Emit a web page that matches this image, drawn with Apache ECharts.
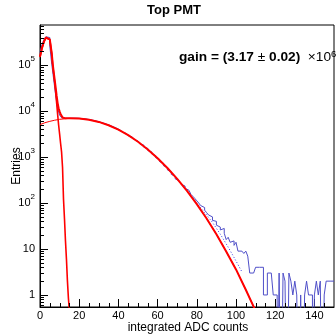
<!DOCTYPE html>
<html><head><meta charset="utf-8">
<script src="https://cdn.jsdelivr.net/npm/echarts@6/dist/echarts.min.js"></script>
<style>html,body{margin:0;padding:0;background:#fff}#c{width:336px;height:334px}</style>
</head><body><div id="c"></div>
<script>
// ---- data ----
// histogram: bins of width 1, starting at 0 (bin i covers [i, i+1))
const histCounts = [
  190000, 280000, 360000, 415000, 400000, 260000, 105000, 48000, 22000, 11500,
  8200, 7200, 7000, 7050, 6980, 6940, 7010, 6980, 7020, 6940,
  6930, 6830, 6790, 6660, 6590, 6440, 6350, 6170, 6060, 5870,
  5740, 5530, 5390, 5170, 5030, 4800, 4650, 4420, 4270, 4030,
  3880, 3650, 3500, 3270, 3130, 2910, 2770, 2560, 2430, 2230,
  2110, 1920, 1820, 1640, 1550, 1390, 1300, 1170, 1080, 970,
  895, 800, 735, 650, 595, 525, 478, 420, 380, 335,
  305, 280, 255, 235, 210, 190, 172, 155, 140, 126,
  112, 100, 88, 80, 70, 62, 55, 50, 42, 40,
  33, 30, 26, 28, 22, 16, 18, 14, 15, 12,
  14, 9, 9, 9, 8, 9, 7, 3, 3, 3,
  4, 4, 4, 4, 1, 1, 3, 3, 3, 1,
  1, 0, 3, 0, 3, 2, 0, 3, 2, 1,
  2, 1, 0, 1, 0, 1, 2, 1, 1, 0,
  1, 2, 1, 2, 0, 1, 2, 2, 2, 2
];
const binWidth = 1;

// total fit (red, thick)
const totalFit = [
  [0, 155000], [1, 236000], [2, 326000], [3, 401000], [4, 426000], [5, 366000],
  [6, 181000], [6.5, 106000], [7, 71000], [7.5, 48000], [8, 32500], [8.5, 21500],
  [9, 15000], [9.5, 11600], [10, 9900], [10.5, 8700], [11, 8000], [11.5, 7300],
  [12, 6950], [13, 6970], [15, 7000], [20, 6930], [25, 6530], [30, 5830],
  [35, 4930], [40, 3950], [45, 3000], [50, 2155], [55, 1470], [60, 947],
  [65, 579], [70, 335], [75, 184], [80, 95], [85, 46], [90, 21], [95, 8.8],
  [100, 3.6], [105, 1.3], [110, 0.45]
];
// pedestal component (red)
const pedestalFit = [
  [0, 150000], [1, 230000], [2, 320000], [3, 395000], [4, 420000], [5, 360000],
  [6, 175000], [6.5, 100000], [7, 65000], [7.5, 42000], [8, 26000], [8.5, 15000],
  [9, 8500], [9.5, 5000], [10, 3200], [10.5, 2000], [11, 1300], [11.5, 600],
  [12, 120], [12.5, 45], [13, 15], [13.5, 6], [14, 2], [14.5, 0.85], [15, 0.45], [15.5, 0.3]
];
// single-photoelectron component (red, thin)
const speFit = [
  [0, 5100], [2.5, 5600], [5, 6000], [7.5, 6350], [10, 6640], [15, 6970],
  [20, 6930], [25, 6530], [30, 5830], [35, 4930], [40, 3950], [45, 3000],
  [50, 2155], [55, 1470], [60, 947], [65, 579], [70, 335], [75, 184],
  [80, 95], [85, 46], [90, 21], [95, 8.8], [100, 3.6], [105, 1.3], [110, 0.45]
];
// alternative curve (blue dotted)
const altFit = [
  [78, 130], [80, 100], [84, 62], [88, 38], [92, 21], [96, 11], [100, 5.5], [103, 3.2]
];

const xTickValues = [0, 20, 40, 60, 80, 100, 120, 140];
const xMinorStep = 5;
const yDecades = [-1, 0, 1, 2, 3, 4, 5];

const titleText = 'Top PMT';
const gainValue = '3.17', gainError = '0.02', gainExp = '6';
const xTitle = 'integrated ADC counts';
const yTitle = 'Entries';

// ---- build ----
const X_MIN = 0, X_MAX = 150, Y_MIN = 0.547, Y_MAX = 750000;
const FONT = 'Liberation Sans';

const histData = histCounts.map((v, i) => [i * binWidth, v > 0 ? v : 1e-3]);
histData.push([histCounts.length * binWidth, histCounts[histCounts.length - 1] || 1e-3]);

const xMinor = [];
for (let v = X_MIN + xMinorStep; v < X_MAX; v += xMinorStep) {
  if (v % 20 !== 0) xMinor.push([v, Y_MIN]);
}
const yMinor = [];
yDecades.forEach(e => {
  for (let k = 2; k <= 9; k++) {
    const v = k * Math.pow(10, e);
    if (v > Y_MIN && v < Y_MAX) yMinor.push([X_MIN, v]);
  }
});

const chart = echarts.init(document.getElementById('c'), null, {renderer: 'canvas'});
const option = {
  animation: false,
  backgroundColor: '#fff',
  textStyle: {fontFamily: FONT},
  grid: {left: 40, right: 2, top: 25, bottom: 27, show: true, borderColor: '#000', borderWidth: 1, backgroundColor: '#fff'},
  xAxis: {
    type: 'value', min: X_MIN, max: X_MAX, interval: 20,
    axisLine: {show: true, lineStyle: {color: '#000', width: 1}},
    axisTick: {show: true, inside: true, length: 8, lineStyle: {color: '#000'}},
    splitLine: {show: false},
    axisLabel: {
      show: true, margin: 3, fontSize: 11, color: '#000', fontFamily: FONT,
      showMaxLabel: false,
      formatter: v => (xTickValues.indexOf(v) >= 0 ? String(v) : '')
    }
  },
  yAxis: {
    type: 'log', logBase: 10, min: Y_MIN, max: Y_MAX,
    axisLine: {show: true, lineStyle: {color: '#000', width: 1}},
    axisTick: {show: true, inside: true, length: 8, lineStyle: {color: '#000'}},
    splitLine: {show: false},
    axisLabel: {
      show: true, margin: 5, color: '#000', fontFamily: FONT, fontSize: 11,
      showMinLabel: false, showMaxLabel: false,
      formatter: v => {
        const l = Math.log10(v);
        const e = Math.round(l);
        if (Math.abs(l - e) > 0.01) return '';
        if (e === 0) return '{b|1}';
        if (e === 1) return '{b|10}';
        return '{b|10}{s|' + e + '}';
      },
      rich: {
        b: {fontSize: 11, lineHeight: 20, fontFamily: FONT, color: '#000'},
        s: {fontSize: 8, lineHeight: 8, verticalAlign: 'top', fontFamily: FONT, color: '#000'}
      }
    }
  },
  series: [
    {
      type: 'line', name: 'hist', data: histData, step: 'end', showSymbol: false, symbol: 'none',
      lineStyle: {color: '#4f4fc8', width: 1}, z: 2, clip: true
    },
    {
      type: 'line', name: 'alt', data: altFit, showSymbol: false, symbol: 'none',
      lineStyle: {color: '#3a3ae6', width: 1, type: [1, 2]}, z: 3, clip: true
    },
    {
      type: 'line', name: 'spe', data: speFit, showSymbol: false, symbol: 'none',
      lineStyle: {color: '#ff0000', width: 1}, z: 4, clip: true
    },
    {
      type: 'line', name: 'ped', data: pedestalFit, showSymbol: false, symbol: 'none',
      lineStyle: {color: '#ff0000', width: 1.6}, z: 5, clip: true
    },
    {
      type: 'line', name: 'total', data: totalFit, showSymbol: false, symbol: 'none',
      lineStyle: {color: '#ff0000', width: 2}, z: 6, clip: true
    },
    {
      type: 'custom', name: 'xminor', data: xMinor, z: 10, clip: true,
      renderItem: (params, api) => {
        const p = api.coord([api.value(0), Y_MIN]);
        const bottom = params.coordSys.y + params.coordSys.height;
        const x = Math.round(p[0]) + 0.5;
        return {type: 'line', shape: {x1: x, y1: bottom, x2: x, y2: bottom - 4}, style: {stroke: '#000', lineWidth: 1}};
      }
    },
    {
      type: 'custom', name: 'yminor', data: yMinor, z: 10, clip: true,
      renderItem: (params, api) => {
        const p = api.coord([X_MIN, api.value(1)]);
        const left = params.coordSys.x;
        const y = Math.round(p[1]) + 0.5;
        return {type: 'line', shape: {x1: left, y1: y, x2: left + 4, y2: y}, style: {stroke: '#000', lineWidth: 1}};
      }
    }
  ],
  graphic: [
    {
      type: 'text', x: 174, y: 10, silent: true,
      style: {text: titleText, font: 'bold 13px "Liberation Sans"', fill: '#000', align: 'center', verticalAlign: 'middle', textAlign: 'center', textVerticalAlign: 'middle'}
    },
    {
      type: 'text', x: 179, y: 57.5, silent: true,
      style: {
        text: '{b|gain = (' + gainValue + ' }{n|\u00b1}{b| ' + gainError + ')  }{n|\u00d710}{s|' + gainExp + '}',
        align: 'left', verticalAlign: 'middle', textAlign: 'left', textVerticalAlign: 'middle', fill: '#000',
        rich: {
          b: {fontSize: 13.7, fontWeight: 'bold', fontFamily: FONT, lineHeight: 16, fill: '#000', color: '#000'},
          n: {fontSize: 13.7, fontFamily: FONT, lineHeight: 16, fill: '#000', color: '#000'},
          s: {fontSize: 9.5, fontFamily: FONT, lineHeight: 8, verticalAlign: 'top', fill: '#000', color: '#000'}
        }
      }
    },
    {
      type: 'text', x: 188, y: 328, silent: true,
      style: {text: xTitle, font: '12px "Liberation Sans"', fill: '#000', align: 'center', verticalAlign: 'middle', textAlign: 'center', textVerticalAlign: 'middle'}
    },
    {
      type: 'text', x: 16.5, y: 166, rotation: Math.PI / 2, silent: true,
      style: {text: yTitle, font: '12px "Liberation Sans"', fill: '#000', align: 'center', verticalAlign: 'middle', textAlign: 'center', textVerticalAlign: 'middle'}
    }
  ]
};
chart.setOption(option);
</script>
</body></html>
